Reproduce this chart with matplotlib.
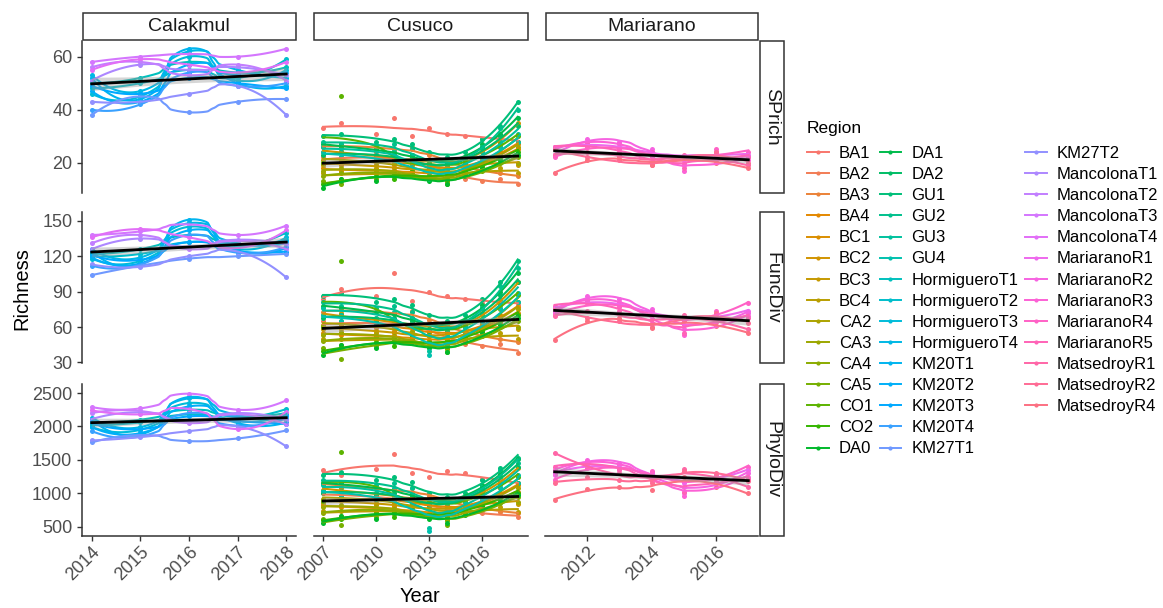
import numpy as np
import matplotlib
matplotlib.use("Agg")
import matplotlib.pyplot as plt
from matplotlib.lines import Line2D
from matplotlib.patches import Rectangle

plt.rcParams["font.family"] = ["Liberation Sans", "DejaVu Sans"]

# ---------------------------------------------------------------
# Data: richness per site and survey year
# ---------------------------------------------------------------
localities = ["Calakmul", "Cusuco", "Mariarano"]
metrics = ["SPrich", "FuncDiv", "PhyloDiv"]

regions = ["BA1", "BA2", "BA3", "BA4", "BC1", "BC2", "BC3", "BC4",
           "CA2", "CA3", "CA4", "CA5", "CO1", "CO2", "DA0", "DA1", "DA2",
           "GU1", "GU2", "GU3", "GU4",
           "HormigueroT1", "HormigueroT2", "HormigueroT3", "HormigueroT4",
           "KM20T1", "KM20T2", "KM20T3", "KM20T4", "KM27T1", "KM27T2",
           "MancolonaT1", "MancolonaT2", "MancolonaT3", "MancolonaT4",
           "MariaranoR1", "MariaranoR2", "MariaranoR3", "MariaranoR4",
           "MariaranoR5", "MatsedroyR1", "MatsedroyR2", "MatsedroyR4"]

calakmul_years = [2014, 2015, 2016, 2017, 2018]
calakmul_sites = ["HormigueroT1", "HormigueroT2", "HormigueroT3", "HormigueroT4",
                  "KM20T1", "KM20T2", "KM20T3", "KM20T4", "KM27T1", "KM27T2",
                  "MancolonaT1", "MancolonaT2", "MancolonaT3", "MancolonaT4"]
calakmul_sprich = [
    [50, 52, 58, 54, 56], [48, 50, 55, 52, 59], [46, 45, 60, 51, 55],
    [53, 47, 62, 55, 52], [52, 44, 63, 50, 49], [47, 43, 57, 53, 54],
    [49, 46, 52, 50, 48], [40, 42, 54, 49, 50], [38, 45, 39, 43, 44],
    [43, 43, 46, 49, 38], [51, 57, 55, 56, 53], [56, 58, 53, 57, 51],
    [58, 60, 61, 60, 63], [55, 59, 57, 54, 58]]
calakmul_funcdiv = [
    [122, 126, 138, 130, 134], [120, 122, 132, 128, 140], [118, 116, 145, 126, 136],
    [126, 119, 148, 131, 131], [124, 113, 151, 125, 127], [119, 114, 142, 130, 133],
    [121, 117, 132, 124, 124], [112, 113, 138, 123, 128], [104, 112, 118, 120, 122],
    [113, 111, 120, 124, 102], [126, 135, 128, 134, 130], [131, 138, 126, 133, 126],
    [138, 141, 147, 138, 146], [136, 143, 136, 127, 142]]
calakmul_phylodiv = [
    [2060, 2100, 2250, 2150, 2200], [2020, 2060, 2180, 2120, 2260],
    [1990, 1950, 2350, 2080, 2180], [2130, 1990, 2420, 2170, 2110],
    [2100, 1880, 2440, 2050, 2060], [1990, 1900, 2300, 2140, 2150],
    [2050, 1960, 2150, 2080, 2040], [1930, 1850, 2200, 2010, 2120],
    [1760, 1870, 1780, 1820, 1940], [1790, 1840, 1930, 2000, 1700],
    [2110, 2210, 2080, 2200, 2100], [2200, 2230, 2050, 2180, 2030],
    [2290, 2270, 2490, 2250, 2390], [2240, 2180, 2260, 1960, 2220]]

cusuco_years = [2007, 2008, 2010, 2011, 2012, 2013, 2014, 2015, 2016, 2017, 2018]
cusuco_sites = ["BA1", "BA2", "BA3", "BA4", "BC1", "BC2", "BC3", "BC4",
                "CA2", "CA3", "CA4", "CA5", "CO1", "CO2", "DA0", "DA1", "DA2",
                "GU1", "GU2", "GU3", "GU4"]
cusuco_sprich = [
    [33, 35, 31, 37, 30, 33, 31, 30, 29, 30, 28],
    [22, 21, 20, 23, 21, 20, 16, 14, 13, 14, 12],
    [26, 27, 24, 25, 26, 23, 21, 17, 18, 16, 15],
    [20, 19, 21, 19, 22, 18, 17, 19, 21, 24, 27],
    [18, 17, 16, 18, 17, 16, 15, 18, 20, 22, 25],
    [24, 25, 22, 21, 23, 21, 19, 21, 25, 28, 35],
    [19, 21, 18, 17, 20, 17, 16, 19, 21, 21, 19],
    [16, 14, 17, 15, 16, 15, 14, 16, 18, 18, 16],
    [21, 22, 19, 20, 19, 17, 16, 17, 21, 24, 26],
    [17, 18, 17, 16, 18, 14, 13, 15, 19, 22, 20],
    [15, 16, 16, 17, 15, 15, 13, 16, 22, 26, 28],
    [13, 12, 14, 15, 16, 14, 12, 15, 17, 20, 22],
    [20, 45, 22, 21, 23, 19, 18, 20, 24, 27, 30],
    [12, 13, 15, 14, 17, 15, 14, 17, 19, 23, 24],
    [10.5, 14, 13, 16, 15, 13, 12, 15, 18, 21, 23],
    [27, 26, 25, 24, 23, 21, 20, 22, 27, 31, 37],
    [23, 24, 22, 23, 22, 19, 18, 21, 26, 30, 34],
    [30, 31, 28, 29, 27, 24, 22, 24, 29, 34, 43],
    [28, 27, 26, 27, 25, 20, 19, 22, 26, 33, 40],
    [26, 24, 23, 25, 23, 15, 17, 20, 24, 29, 31],
    [24, 22, 21, 22, 20, 14, 16, 18, 22, 26, 28]]
cusuco_funcdiv = [
    [84, 92, 86, 106, 82, 90, 86, 84, 80, 84, 79],
    [65, 60, 59, 66, 62, 58, 50, 46, 44, 46, 38],
    [73, 76, 68, 72, 74, 66, 62, 52, 55, 50, 47],
    [60, 58, 62, 57, 64, 55, 52, 57, 63, 69, 77],
    [55, 53, 50, 55, 52, 49, 47, 55, 60, 65, 72],
    [70, 72, 64, 62, 67, 62, 57, 62, 72, 80, 98],
    [58, 62, 55, 52, 60, 52, 49, 57, 63, 63, 58],
    [50, 45, 52, 47, 50, 47, 44, 50, 55, 55, 50],
    [62, 65, 57, 60, 57, 52, 49, 52, 62, 70, 75],
    [53, 56, 52, 49, 55, 45, 42, 47, 57, 65, 60],
    [48, 50, 50, 52, 47, 47, 41, 50, 65, 75, 81],
    [42, 33, 44, 47, 50, 44, 39, 47, 52, 60, 65],
    [60, 116, 66, 63, 68, 57, 55, 60, 71, 79, 87],
    [40, 42, 47, 44, 52, 47, 44, 52, 57, 68, 70],
    [36, 45, 42, 50, 47, 42, 39, 47, 55, 62, 68],
    [78, 76, 73, 71, 68, 62, 60, 66, 79, 90, 106],
    [68, 70, 65, 68, 65, 57, 55, 63, 76, 87, 98],
    [86, 89, 81, 84, 79, 70, 65, 70, 84, 98, 116],
    [81, 78, 76, 78, 73, 58, 57, 65, 76, 95, 110],
    [76, 70, 68, 73, 68, 40, 52, 60, 70, 84, 89],
    [70, 65, 62, 65, 60, 36, 46, 54, 65, 76, 81]]
cusuco_phylodiv = [
    [1350, 1280, 1370, 1580, 1300, 1250, 1330, 1300, 1220, 1200, 1150],
    [1000, 950, 900, 960, 900, 800, 760, 720, 700, 720, 640],
    [1150, 1120, 1000, 1050, 1080, 960, 900, 780, 800, 740, 700],
    [900, 880, 920, 850, 950, 800, 760, 820, 900, 1000, 1120],
    [820, 790, 740, 810, 760, 700, 680, 780, 860, 930, 1020],
    [1050, 1080, 960, 930, 1000, 900, 830, 900, 1050, 1150, 1380],
    [860, 920, 820, 780, 890, 760, 700, 820, 900, 900, 840],
    [740, 660, 770, 700, 740, 690, 640, 720, 800, 800, 720],
    [920, 960, 850, 890, 850, 760, 700, 760, 900, 1000, 1080],
    [790, 830, 770, 730, 820, 660, 600, 690, 820, 940, 870],
    [710, 740, 740, 770, 700, 690, 600, 720, 940, 1080, 1160],
    [620, 520, 650, 690, 740, 640, 520, 690, 760, 860, 940],
    [890, 1620, 980, 940, 1000, 840, 800, 870, 1030, 1140, 1250],
    [600, 620, 700, 650, 760, 690, 640, 750, 820, 980, 1000],
    [560, 660, 620, 740, 700, 620, 560, 680, 790, 890, 980],
    [1150, 1130, 1080, 1050, 1000, 900, 870, 950, 1130, 1290, 1510],
    [1000, 1040, 960, 1000, 960, 830, 800, 910, 1090, 1250, 1400],
    [1270, 1320, 1200, 1240, 1170, 1000, 940, 1010, 1200, 1380, 1530],
    [1200, 1160, 1120, 1150, 1080, 820, 860, 940, 1090, 1350, 1450],
    [1120, 1040, 1000, 1080, 1000, 480, 780, 860, 1000, 1200, 1270],
    [1040, 960, 920, 960, 880, 440, 740, 780, 930, 1090, 1160]]

mariarano_years = [2011, 2012, 2013, 2014, 2015, 2016, 2017]
mariarano_sites = ["MariaranoR1", "MariaranoR2", "MariaranoR3", "MariaranoR4",
                   "MariaranoR5", "MatsedroyR1", "MatsedroyR2", "MatsedroyR4"]
mariarano_sprich = [
    [26, 27, 26, 24, 22, 24, 23], [23, 29, 28, 25, 19, 23, 22],
    [25, 28, 27, 23, 17, 22, 21], [22, 26, 25, 24, 20, 25, 24],
    [26, 27, 24, 22, 18, 24, 22], [23, 24, 23, 20, 23, 21, 19],
    [25, 22, 21, 19, 22, 24, 20], [16, 21, 22, 19, 22, 20, 18]]
mariarano_funcdiv = [
    [76, 82, 79, 73, 66, 70, 74], [72, 86, 84, 75, 58, 68, 72],
    [74, 84, 81, 70, 53, 65, 69], [70, 80, 77, 73, 62, 74, 80],
    [78, 82, 74, 67, 55, 71, 68], [69, 74, 71, 63, 70, 64, 58],
    [75, 68, 65, 60, 67, 72, 63], [49, 65, 68, 59, 66, 61, 55]]
mariarano_phylodiv = [
    [1300, 1420, 1380, 1300, 1150, 1250, 1350], [1280, 1500, 1450, 1320, 1000, 1200, 1300],
    [1350, 1480, 1420, 1280, 960, 1150, 1250], [1200, 1380, 1350, 1330, 1100, 1280, 1400],
    [1400, 1460, 1360, 1250, 1020, 1260, 1220], [1600, 1400, 1300, 1180, 1360, 1200, 1100],
    [1150, 1250, 1200, 1150, 1340, 1300, 1180], [900, 1060, 1100, 1050, 1250, 1100, 1000]]

panels = {
    ("Calakmul", "SPrich"): (calakmul_years, calakmul_sites, calakmul_sprich),
    ("Calakmul", "FuncDiv"): (calakmul_years, calakmul_sites, calakmul_funcdiv),
    ("Calakmul", "PhyloDiv"): (calakmul_years, calakmul_sites, calakmul_phylodiv),
    ("Cusuco", "SPrich"): (cusuco_years, cusuco_sites, cusuco_sprich),
    ("Cusuco", "FuncDiv"): (cusuco_years, cusuco_sites, cusuco_funcdiv),
    ("Cusuco", "PhyloDiv"): (cusuco_years, cusuco_sites, cusuco_phylodiv),
    ("Mariarano", "SPrich"): (mariarano_years, mariarano_sites, mariarano_sprich),
    ("Mariarano", "FuncDiv"): (mariarano_years, mariarano_sites, mariarano_funcdiv),
    ("Mariarano", "PhyloDiv"): (mariarano_years, mariarano_sites, mariarano_phylodiv),
}

x_breaks = {"Calakmul": [2014, 2015, 2016, 2017, 2018],
            "Cusuco": [2007, 2010, 2013, 2016],
            "Mariarano": [2012, 2014, 2016]}
y_breaks = {"SPrich": [20, 40, 60],
            "FuncDiv": [30, 60, 90, 120, 150],
            "PhyloDiv": [500, 1000, 1500, 2000, 2500]}
y_limits = {"SPrich": (8.6, 65.9),
            "FuncDiv": (29.5, 157.5),
            "PhyloDiv": (360, 2635)}


# ---------------------------------------------------------------
# Helpers
# ---------------------------------------------------------------
def hue_pal(n, h0=15, c=100, l=65):
    """ggplot2-style evenly spaced HCL hues, converted to sRGB."""
    hues = np.linspace(h0, h0 + 360, n + 1)[:n]
    xn, yn, zn = 0.95047, 1.0, 1.08883
    un = 4 * xn / (xn + 15 * yn + 3 * zn)
    vn = 9 * yn / (xn + 15 * yn + 3 * zn)
    out = []
    for h in hues:
        u = c * np.cos(np.radians(h))
        v = c * np.sin(np.radians(h))
        Y = ((l + 16) / 116) ** 3
        up = u / (13 * l) + un
        vp = v / (13 * l) + vn
        X = Y * 9 * up / (4 * vp)
        Z = Y * (12 - 3 * up - 20 * vp) / (4 * vp)
        rgb = np.array([3.2404542 * X - 1.5371385 * Y - 0.4985314 * Z,
                        -0.9692660 * X + 1.8760108 * Y + 0.0415560 * Z,
                        0.0556434 * X - 0.2040259 * Y + 1.0572252 * Z])
        rgb = np.where(rgb <= 0.0031308, 12.92 * rgb,
                       1.055 * np.abs(rgb) ** (1 / 2.4) - 0.055)
        out.append(tuple(np.clip(rgb, 0, 1)))
    return out


def loess(x, y, grid, span=0.75):
    """Local quadratic regression with tricube weights."""
    x = np.asarray(x, float)
    y = np.asarray(y, float)
    q = max(int(np.floor(span * len(x))), 3)
    fit = []
    for g in grid:
        d = np.abs(x - g)
        h = np.sort(d)[q - 1] * 1.2
        w = np.sqrt(np.clip(1 - (d / h) ** 3, 0, None) ** 3)
        X = np.column_stack([np.ones_like(x), x - g, (x - g) ** 2])
        beta = np.linalg.lstsq(X * w[:, None], y * w, rcond=None)[0]
        fit.append(beta[0])
    return np.array(fit)


def lm_band(x, y, grid, t=1.98):
    x = np.asarray(x, float)
    y = np.asarray(y, float)
    b, a = np.polyfit(x, y, 1)
    resid = y - (a + b * x)
    s = np.sqrt(np.sum(resid ** 2) / (len(x) - 2))
    sxx = np.sum((x - x.mean()) ** 2)
    fit = a + b * grid
    se = s * np.sqrt(1 / len(x) + (grid - x.mean()) ** 2 / sxx)
    return fit, fit - t * se, fit + t * se


colours = dict(zip(regions, hue_pal(len(regions))))

# ---------------------------------------------------------------
# Layout (pixel boxes of the facet grid)
# ---------------------------------------------------------------
W, H = 1163, 608
col_px = [(82, 296), (313.5, 527.5), (545, 758)]
row_px = [(41, 193), (212, 363), (384, 536)]
text_col = "#4D4D4D"
line_col = "#333333"

fig = plt.figure(figsize=(W / 100, H / 100), dpi=100)


def px_box(x0, x1, y0, y1):
    return [x0 / W, 1 - y1 / H, (x1 - x0) / W, (y1 - y0) / H]


axes = {}
for r, metric in enumerate(metrics):
    for c, loc in enumerate(localities):
        ax = fig.add_axes(px_box(*col_px[c], *row_px[r]))
        axes[(loc, metric)] = ax
        years, sites, values = panels[(loc, metric)]
        grid = np.linspace(years[0], years[-1], 120)
        all_x, all_y = [], []
        for site, vals in zip(sites, values):
            col = colours[site]
            ax.plot(years, vals, "o", ms=3.6, color=col, mec="none", zorder=2)
            ax.plot(grid, loess(years, vals, grid), color=col, lw=1.5, zorder=3)
            all_x += years
            all_y += vals
        fit, lo, hi = lm_band(all_x, all_y, grid)
        ax.fill_between(grid, lo, hi, color="#999999", alpha=0.4, lw=0, zorder=4)
        ax.plot(grid, fit, color="black", lw=2, zorder=5)

        span = years[-1] - years[0]
        ax.set_xlim(years[0] - 0.05 * span, years[-1] + 0.05 * span)
        ax.set_ylim(*y_limits[metric])
        ax.set_xticks(x_breaks[loc])
        ax.set_yticks(y_breaks[metric])
        for side in ("top", "right"):
            ax.spines[side].set_visible(False)
        ax.spines["left"].set_visible(c == 0)
        ax.spines["bottom"].set_visible(r == 2)
        for side in ("left", "bottom"):
            ax.spines[side].set_color(line_col)
            ax.spines[side].set_linewidth(1.1)
        ax.tick_params(axis="y", left=(c == 0), labelleft=(c == 0),
                       colors=line_col, labelcolor=text_col, labelsize=13,
                       length=3.5, width=1, pad=3.5)
        ax.tick_params(axis="x", bottom=(r == 2), labelbottom=(r == 2),
                       colors=line_col, labelcolor=text_col, labelsize=13,
                       length=3.5, width=1, pad=2)
        if r == 2:
            for lab in ax.get_xticklabels():
                lab.set_rotation(45)
                lab.set_ha("right")
                lab.set_va("top")
                lab.set_rotation_mode("anchor")
        ax.set_facecolor("none")

# facet strips
for c, loc in enumerate(localities):
    x0, x1 = col_px[c]
    fig.patches.append(Rectangle(((x0 + 1) / W, 1 - 40 / H), (x1 - x0 - 1) / W, 27 / H,
                                 transform=fig.transFigure, fc="white",
                                 ec=line_col, lw=1.1))
    fig.text((x0 + x1) / 2 / W, 1 - 26.5 / H, loc, ha="center", va="center",
             fontsize=14, color="#1A1A1A")
for r, metric in enumerate(metrics):
    y0, y1 = row_px[r]
    fig.patches.append(Rectangle((760 / W, 1 - y1 / H), 24 / W, (y1 - y0) / H,
                                 transform=fig.transFigure, fc="white",
                                 ec=line_col, lw=1.1))
    fig.text(772 / W, 1 - (y0 + y1) / 2 / H, metric, ha="center", va="center",
             rotation=-90, fontsize=14, color="#1A1A1A")

fig.text(22 / W, 1 - 289 / H, "Richness", rotation=90, ha="center",
         va="center", fontsize=14.5)
fig.text(420 / W, 1 - 597 / H, "Year", ha="center", va="center", fontsize=14.5)

# legend: 15 rows per column, last column padded with two blank slots
handles = [Line2D([], [], color=colours[reg], lw=1.4, marker="o", ms=3,
                  mec="none") for reg in regions]
labels = list(regions)
handles += [Line2D([], [], lw=0, alpha=0)] * 2
labels += ["", ""]
fig.text(807 / W, 1 - 128 / H, "Region", ha="left", va="center", fontsize=12.5)
fig.legend(handles, labels, ncol=3, loc="upper left",
           bbox_to_anchor=(807 / W, 1 - 146 / H), frameon=False,
           fontsize=12, handlelength=1.3, handletextpad=0.6,
           columnspacing=0.4, labelspacing=0.366, borderpad=0,
           borderaxespad=0)

fig.savefig("out.png", dpi=100)
